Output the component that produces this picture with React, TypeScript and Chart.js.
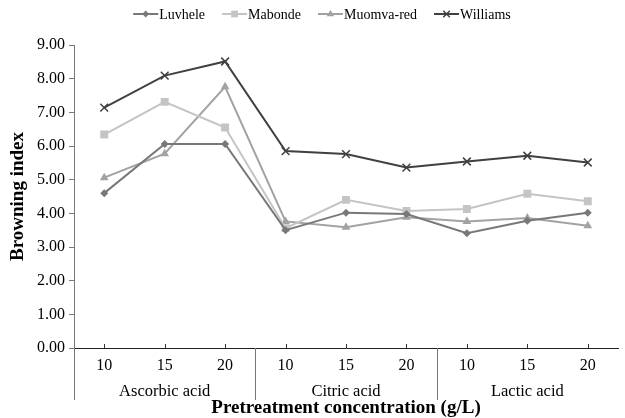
import { useEffect, useRef } from 'react';
import { Chart, registerables } from 'chart.js';

Chart.register(...registerables);

const categories = ['10', '15', '20', '10', '15', '20', '10', '15', '20'];
const groups = ['Ascorbic acid', 'Citric acid', 'Lactic acid'];
const groupSize = 3;

const luvhele = [4.6, 6.06, 6.06, 3.5, 4.02, 3.98, 3.41, 3.78, 4.02];
const mabonde = [6.34, 7.31, 6.55, 3.56, 4.4, 4.07, 4.13, 4.58, 4.36];
const muomvaRed = [5.06, 5.77, 7.76, 3.76, 3.59, 3.88, 3.76, 3.86, 3.63];
const williams = [7.14, 8.09, 8.51, 5.85, 5.76, 5.36, 5.54, 5.71, 5.51];

const seriesNames = ['Luvhele', 'Mabonde', 'Muomva-red', 'Williams'];
const seriesColors = ['#787878', '#c4c4c4', '#a2a2a2', '#404040'];
const seriesMarkers = ['rectRot', 'rect', 'triangle', 'crossRot'];
const seriesRadius = [4, 5.6, 5, 5.5];

const FONT = '"Liberation Serif", "Times New Roman", serif';

function drawMarker(ctx: CanvasRenderingContext2D, style: string, x: number, y: number, r: number, color: string) {
  ctx.save();
  ctx.fillStyle = color;
  ctx.strokeStyle = color;
  ctx.lineWidth = 1.5;
  ctx.beginPath();
  if (style === 'rectRot') {
    ctx.moveTo(x - r, y);
    ctx.lineTo(x, y - r);
    ctx.lineTo(x + r, y);
    ctx.lineTo(x, y + r);
    ctx.closePath();
    ctx.fill();
  } else if (style === 'rect') {
    const s = r * Math.SQRT1_2;
    ctx.rect(x - s, y - s, 2 * s, 2 * s);
    ctx.fill();
  } else if (style === 'triangle') {
    ctx.moveTo(x - r * 0.866, y + r * 0.5);
    ctx.lineTo(x, y - r);
    ctx.lineTo(x + r * 0.866, y + r * 0.5);
    ctx.closePath();
    ctx.fill();
  } else {
    const s = r * Math.SQRT1_2;
    ctx.moveTo(x - s, y - s);
    ctx.lineTo(x + s, y + s);
    ctx.moveTo(x + s, y - s);
    ctx.lineTo(x - s, y + s);
    ctx.stroke();
  }
  ctx.restore();
}

const overlay = {
  id: 'overlay',
  afterDraw(chart: any) {
    const { ctx, chartArea, scales } = chart;
    const x = scales.x;
    const step = x.getPixelForValue(1) - x.getPixelForValue(0);
    ctx.save();
    // small inward ticks at category centres
    ctx.strokeStyle = '#333';
    ctx.lineWidth = 1;
    categories.forEach((_, i) => {
      const px = Math.round(x.getPixelForValue(i)) + 0.5;
      ctx.beginPath();
      ctx.moveTo(px, chartArea.bottom);
      ctx.lineTo(px, chartArea.bottom - 4);
      ctx.stroke();
    });
    // group dividers and labels
    ctx.strokeStyle = '#777';
    ctx.fillStyle = '#000';
    ctx.font = `16.5px ${FONT}`;
    ctx.textAlign = 'center';
    ctx.textBaseline = 'alphabetic';
    groups.forEach((g, gi) => {
      const start = x.getPixelForValue(gi * groupSize) - step / 2;
      const end = x.getPixelForValue(gi * groupSize + groupSize - 1) + step / 2;
      const px = Math.round(start) + 0.5;
      ctx.beginPath();
      ctx.moveTo(px, chartArea.bottom);
      ctx.lineTo(px, chartArea.bottom + 52);
      ctx.stroke();
      ctx.fillText(g, (start + end) / 2, chartArea.bottom + 48);
    });
    // legend
    ctx.font = `14px ${FONT}`;
    ctx.textAlign = 'left';
    ctx.textBaseline = 'middle';
    const symW = 25;
    const gap = 17;
    const widths = seriesNames.map((n) => symW + 1 + ctx.measureText(n).width);
    const total = widths.reduce((a, b) => a + b, 0) + gap * (seriesNames.length - 1);
    let lx = 322 - total / 2;
    const ly = 14;
    seriesNames.forEach((n, i) => {
      ctx.strokeStyle = seriesColors[i];
      ctx.lineWidth = 2;
      ctx.beginPath();
      ctx.moveTo(lx, ly);
      ctx.lineTo(lx + symW, ly);
      ctx.stroke();
      drawMarker(ctx, seriesMarkers[i], lx + symW / 2, ly, seriesRadius[i] * 0.85, seriesColors[i]);
      ctx.fillStyle = '#000';
      ctx.fillText(n, lx + symW + 1, ly + 1);
      lx += widths[i] + gap;
    });
    ctx.restore();
  },
};

export default function App() {
  const ref = useRef<HTMLCanvasElement | null>(null);
  useEffect(() => {
    if (!ref.current) return;
    const seriesValues = [luvhele, mabonde, muomvaRed, williams];
    const chart = new Chart(ref.current, {
      type: 'line',
      data: {
        labels: categories,
        datasets: seriesNames.map((name, i) => ({
          label: name,
          data: seriesValues[i],
          borderColor: seriesColors[i],
          backgroundColor: seriesColors[i],
          pointBackgroundColor: seriesColors[i],
          pointBorderColor: seriesColors[i],
          pointStyle: seriesMarkers[i] as any,
          pointRadius: seriesRadius[i],
          pointBorderWidth: seriesMarkers[i] === 'crossRot' ? 1.5 : 0,
          borderWidth: 2,
          tension: 0,
        })),
      },
      options: {
        animation: false,
        responsive: true,
        maintainAspectRatio: false,
        layout: { padding: { top: 45, right: 0, left: 0, bottom: 0 } },
        plugins: { legend: { display: false }, tooltip: { enabled: false } },
        scales: {
          x: {
            type: 'category',
            offset: true,
            grid: { display: false, drawTicks: false },
            border: { display: true, color: '#222', width: 1 },
            ticks: {
              color: '#000',
              font: { family: FONT, size: 16 },
              padding: 8,
              maxRotation: 0,
              autoSkip: false,
            },
            title: {
              display: true,
              text: 'Pretreatment concentration (g/L)',
              color: '#000',
              font: { family: FONT, size: 19, weight: 'bold', lineHeight: 1 },
              padding: { top: 0, bottom: 0 },
            },
            afterFit: (scale: any) => {
              scale.height = 70;
            },
          },
          y: {
            min: 0,
            max: 9,
            grid: { drawOnChartArea: false, drawTicks: true, tickLength: 5, color: '#777' },
            border: { display: true, color: '#777', width: 1 },
            ticks: {
              stepSize: 1,
              color: '#000',
              font: { family: FONT, size: 16 },
              padding: 4,
              callback: (v: any) => Number(v).toFixed(2),
            },
            title: {
              display: true,
              text: 'Browning index',
              color: '#000',
              font: { family: FONT, size: 19, weight: 'bold', lineHeight: 1 },
              padding: { top: 9, bottom: 0 },
            },
            afterFit: (scale: any) => {
              scale.width = 74;
            },
          },
        },
      },
      plugins: [overlay],
    });
    return () => chart.destroy();
  }, []);
  return (
    <div style={{ position: 'absolute', left: 0, top: 0, width: 625, height: 418, background: '#fff' }}>
      <canvas ref={ref} />
    </div>
  );
}
